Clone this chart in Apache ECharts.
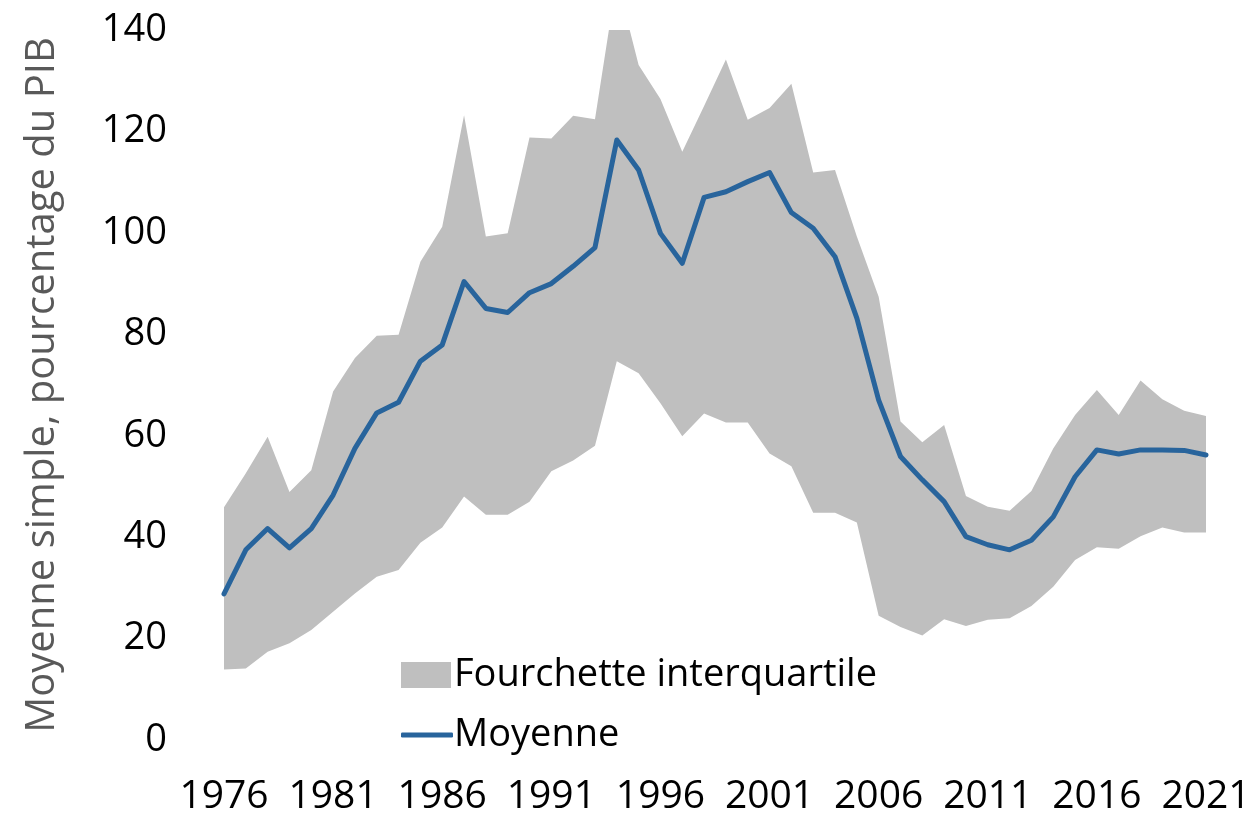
<!DOCTYPE html>
<html>
<head>
<meta charset="utf-8">
<script src="https://cdn.jsdelivr.net/npm/echarts@6/dist/echarts.min.js"></script>
<style>
  html, body { margin: 0; padding: 0; background: #fff; }
  #chart { width: 1254px; height: 819px; }
</style>
</head>
<body>
<div id="chart"></div>
<script>
// années 1976 - 2021
const years = []
for (let y = 1976; y <= 2021; y++) years.push(String(y))

// moyenne simple, % du PIB
const moyenne = [
  28.8, 37.5, 41.7, 37.9, 41.7, 48.3, 57.5, 64.5, 66.6, 74.7,
  77.9, 90.4, 85.1, 84.3, 88.2, 90.0, 93.4, 97.1, 118.3, 112.4,
  99.9, 94.0, 107.0, 108.1, 110.1, 111.9, 104.0, 100.9, 95.3, 83.2,
  67.0, 55.9, 51.3, 47.0, 40.1, 38.5, 37.5, 39.4, 44.0, 51.9,
  57.2, 56.4, 57.2, 57.2, 57.1, 56.2,
]

// quartiles (bas / haut)
const q1 = [
  13.9, 14.1, 17.4, 19.1, 21.7, 25.3, 28.9, 32.2, 33.5, 38.9,
  41.9, 48.0, 44.4, 44.4, 47.0, 53.0, 55.1, 58.0, 74.7, 72.3,
  66.4, 59.9, 64.4, 62.6, 62.6, 56.5, 54.0, 44.8, 44.8, 42.9,
  24.5, 22.3, 20.6, 23.8, 22.5, 23.7, 24.0, 26.4, 30.2, 35.5,
  38.0, 37.7, 40.2, 41.9, 40.9, 40.9,
]
const q3 = [
  45.9, 52.6, 59.8, 48.9, 53.2, 68.7, 75.3, 79.7, 79.9, 94.3,
  101.2, 123.2, 99.3, 99.9, 118.8, 118.6, 123.1, 122.4, 150.0, 133.1,
  126.4, 116.0, 125.0, 134.2, 122.3, 124.6, 129.4, 111.9, 112.4, 99.3,
  87.4, 62.8, 58.7, 62.1, 48.1, 46.0, 45.2, 49.1, 57.5, 64.1,
  69.0, 64.1, 70.9, 67.2, 64.9, 63.9,
]

const FONT = 'Open Sans'
const BLUE = '#28649c'
const GRAY = '#bfbfbf'

const option = {
  animation: false,
  textStyle: { fontFamily: FONT },
  grid: { left: 224, right: 48, top: 30, bottom: 79 },
  legend: [
    {
      data: ['Fourchette interquartile'],
      left: 396,
      top: 651,
      icon: 'rect',
      itemWidth: 50,
      itemHeight: 26,
      itemGap: 0,
      textStyle: { fontSize: 38, color: '#000', padding: [0, 0, 0, -2] },
    },
    {
      data: ['Moyenne'],
      left: 396,
      top: 711,
      icon: 'roundRect',
      itemWidth: 52,
      itemHeight: 5,
      textStyle: { fontSize: 38, color: '#000', padding: [0, 0, 0, -4] },
    },
  ],
  xAxis: {
    type: 'category',
    boundaryGap: false,
    data: years,
    axisLine: { show: false },
    axisTick: { show: false },
    axisLabel: {
      interval: 4,
      fontSize: 39,
      color: '#000',
      margin: 37,
    },
  },
  yAxis: {
    type: 'value',
    min: 0,
    max: 140,
    interval: 20,
    name: 'Moyenne simple, pourcentage du PIB',
    nameLocation: 'middle',
    nameGap: 161,
    nameTextStyle: { fontSize: 40, color: '#595959' },
    axisLine: { show: false },
    axisTick: { show: false },
    splitLine: { show: false },
    axisLabel: { fontSize: 38, color: '#000', margin: 57 },
  },
  series: [
    {
      name: 'bas',
      type: 'line',
      stack: 'band',
      data: q1,
      symbol: 'none',
      lineStyle: { opacity: 0 },
      silent: true,
    },
    {
      name: 'Fourchette interquartile',
      type: 'line',
      stack: 'band',
      data: q3.map((v, i) => +(v - q1[i]).toFixed(1)),
      symbol: 'none',
      lineStyle: { width: 0, opacity: 0 },
      itemStyle: { color: GRAY },
      areaStyle: { color: GRAY, opacity: 1 },
      clip: true,
    },
    {
      name: 'Moyenne',
      type: 'line',
      data: moyenne,
      symbol: 'none',
      lineStyle: { width: 5, color: BLUE, cap: 'round', join: 'round' },
      itemStyle: { color: BLUE },
      z: 3,
    },
  ],
}

const chart = echarts.init(document.getElementById('chart'))
chart.setOption(option)
window.addEventListener('resize', () => chart.resize())
</script>
</body>
</html>
